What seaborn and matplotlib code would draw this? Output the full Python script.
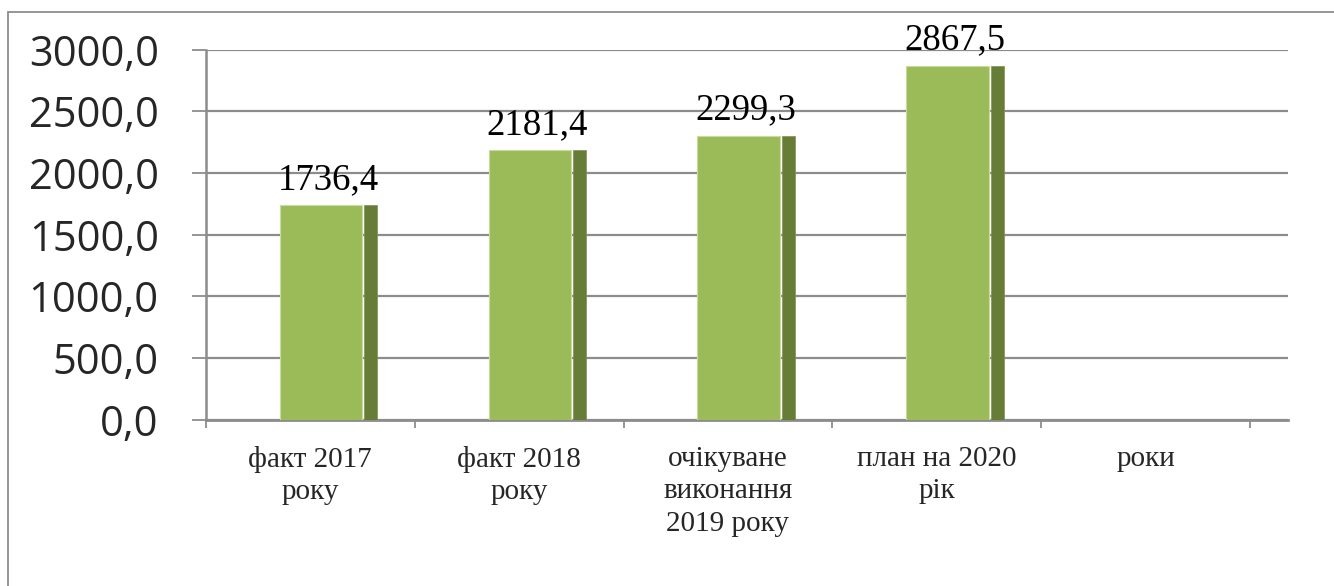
import seaborn as sns
import matplotlib.pyplot as plt
import matplotlib.ticker as mticker
from matplotlib.patches import Rectangle
import pandas as pd
import numpy as np

# data
categories = ["факт 2017\nроку", "факт 2018\nроку", "очікуване\nвиконання\n2019 року",
              "план на 2020\nрік", "роки"]
bar_categories = categories[:4]
values = [1736.4, 2181.4, 2299.3, 2867.5]

df = pd.DataFrame({"category": bar_categories, "value": values})

sns.set_style("white")
plt.rcParams["font.family"] = ["Liberation Serif", "DejaVu Serif"]

front_color = "#9BBB59"
side_color = "#677C37"
grid_color = "#8C8C8C"

fig = plt.figure(figsize=(13.34, 5.86), dpi=100)
ax = fig.add_axes([0.1544, 0.2841, 0.9655 - 0.1544, 0.9155 - 0.2841])

# front faces of the pseudo-3D bars
sns.barplot(data=df, x="category", y="value", order=categories, color=front_color,
            width=0.395, saturation=1, edgecolor="#C9DCA0", linewidth=0.8, ax=ax, zorder=3)
front = list(ax.patches)
for p in front:
    p.set_x(p.get_x() + 0.051)

# darker side strips
sns.barplot(data=df, x="category", y="value", order=categories, color=side_color,
            width=0.062, saturation=1, edgecolor="#7E9150", linewidth=0.5, ax=ax, zorder=3)
for p in ax.patches[len(front):]:
    p.set_x(p.get_x() + 0.29)

# value labels
for i, v in enumerate(values):
    ax.annotate(f"{v:.1f}".replace(".", ","), (i + 0.085, v), xytext=(0, 12),
                textcoords="offset points", ha="center", va="baseline",
                fontsize=26.5, family=["Liberation Serif"], color="black")

ax.set_xlim(-0.5, 4.682)
ax.set_ylim(0, 3000)
ax.yaxis.set_major_locator(mticker.MultipleLocator(500))
ax.yaxis.set_major_formatter(mticker.FuncFormatter(lambda v, _: f"{v:.1f}".replace(".", ",")))
ax.tick_params(axis="y", which="major", direction="out", length=10, width=1.3,
               color=grid_color, labelsize=30, pad=24, left=True)
for lbl in ax.get_yticklabels():
    lbl.set_family(["Open Sans", "DejaVu Sans"])

ax.set_xticks(range(len(categories)))
ax.set_xticklabels(categories, fontsize=21, linespacing=1.32, family=["Liberation Serif"])
ax.tick_params(axis="x", which="major", length=0, pad=19)
ax.set_xticks(np.arange(-0.5, len(categories), 1), minor=True)
ax.tick_params(axis="x", which="minor", direction="out", length=6, width=1.3,
               color=grid_color, bottom=True)

ax.yaxis.grid(True, color=grid_color, linewidth=1.6, zorder=0)
ax.set_axisbelow(True)
ax.set_xlabel("")
ax.set_ylabel("")

for side in ["top", "right"]:
    ax.spines[side].set_visible(False)
ax.spines["left"].set_color(grid_color)
ax.spines["left"].set_linewidth(1.8)
ax.spines["bottom"].set_color(grid_color)
ax.spines["bottom"].set_linewidth(2)

# outer chart border (only left and top edges fall inside the picture)
fig.patches.append(Rectangle((8 / 1334, -0.1), 1.1, 1 - 12 / 586 + 0.1,
                             transform=fig.transFigure, fill=False,
                             edgecolor=grid_color, linewidth=1.3))

fig.savefig("out.png", dpi=100)
plt.close(fig)
